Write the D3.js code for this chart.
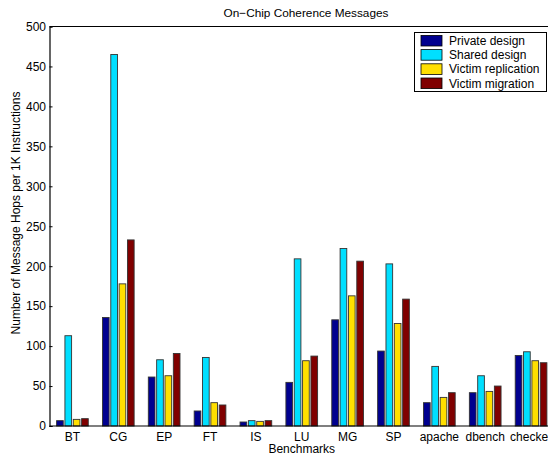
<!DOCTYPE html>
<html><head><meta charset="utf-8">
<script src="https://cdn.jsdelivr.net/npm/d3@7"></script>
<style>body{margin:0;background:#fff}svg{display:block}text{font-family:"Liberation Sans",Arial,Helvetica,sans-serif;fill:#000}</style>
</head><body>
<script>
const categories = ["BT","CG","EP","FT","IS","LU","MG","SP","apache","dbench","checker"];
const seriesNames = ["Private design","Shared design","Victim replication","Victim migration"];
const privateDesign = [6.7,135.8,61.3,18.8,5,54.6,132.9,93.8,29.2,41.7,88.3];
const sharedDesign = [113,465,82.9,85.8,6.7,209.2,222.1,202.9,74.6,62.9,92.9];
const victimReplication = [8.3,177.9,62.9,29.2,5.8,81.7,162.9,128.3,35.8,43.3,81.7];
const victimMigration = [9.2,232.9,90.8,26.3,6.7,87.5,206.3,158.8,41.7,50,79.2];
const yTicks = [0,50,100,150,200,250,300,350,400,450,500];
const colors = ["#00008F","#00DFFF","#FFDF00","#800000"];
const series = [privateDesign, sharedDesign, victimReplication, victimMigration];

const W = 548, H = 461;
const mLeft = 49.5, mTop = 26.5, mBottom = 426, mRight = 554;
const FONT = '"Liberation Sans",Arial,Helvetica,sans-serif';
const svg = d3.select("body").append("svg").attr("width", W).attr("height", H);

const x = d3.scaleBand().domain(categories).range([mLeft, mRight]).paddingInner(0).paddingOuter(0);
const groupW = x.bandwidth() * 4 / 5.5;
const step = groupW / 4;
const barW = step * 0.8;
const y = d3.scaleLinear().domain([0, 500]).range([mBottom, mTop]);

// bars
series.forEach((vals, si) => {
  svg.append("g").selectAll("rect").data(vals).join("rect")
    .attr("x", (d, i) => x(categories[i]) + x.bandwidth()/2 - groupW/2 + step*(si + 0.5) - barW/2)
    .attr("width", barW)
    .attr("y", d => y(d))
    .attr("height", d => y(0) - y(d))
    .attr("fill", colors[si])
    .attr("stroke", "#333").attr("stroke-width", 0.9);
});

// axes box
svg.append("line").attr("x1", mLeft).attr("x2", mRight).attr("y1", mTop).attr("y2", mTop).attr("stroke", "#000");
svg.append("line").attr("x1", mLeft).attr("x2", mRight).attr("y1", mBottom).attr("y2", mBottom).attr("stroke", "#000").attr("stroke-width", 1.2);

const yAxis = d3.axisLeft(y).tickValues(yTicks).tickSize(-3).tickPadding(3.5).tickFormat(d3.format("d"));
const gy = svg.append("g").attr("transform", `translate(${mLeft},0)`).call(yAxis);
gy.select(".domain").attr("stroke-width", 1.2);
gy.selectAll("text").attr("font-size", 12).style("font-family", FONT);

const xAxis = d3.axisBottom(x).tickSize(0).tickPadding(6);
const gx = svg.append("g").attr("transform", `translate(0,${mBottom})`).call(xAxis);
gx.select(".domain").remove();
gx.selectAll("text").attr("font-size", 12).attr("dy", "0.71em").style("font-family", FONT);

// title & labels
svg.append("text").attr("x", 306).attr("y", 17).attr("text-anchor", "middle").attr("font-size", 11.8).text("On\u2212Chip Coherence Messages");
svg.append("text").attr("x", (mLeft + mRight)/2).attr("y", 453).attr("text-anchor", "middle").attr("font-size", 12).text("Benchmarks");
svg.append("text").attr("transform", `translate(16,213) rotate(-90)`).attr("text-anchor", "middle").attr("dy", "0.35em").attr("font-size", 12).text("Number of Message Hops per 1K Instructions");

// legend
const lg = svg.append("g");
lg.append("rect").attr("x", 414.5).attr("y", 32.5).attr("width", 132).attr("height", 59).attr("fill", "#fff").attr("stroke", "#000");
seriesNames.forEach((name, i) => {
  const cy = 40.7 + i * 14.2;
  lg.append("rect").attr("x", 421).attr("y", cy - 5.3).attr("width", 21).attr("height", 10.6).attr("fill", colors[i]).attr("stroke", "#000").attr("stroke-width", 0.8);
  lg.append("text").attr("x", 449).attr("y", cy).attr("dy", "0.35em").attr("font-size", 12).text(name);
});
</script>
</body></html>
